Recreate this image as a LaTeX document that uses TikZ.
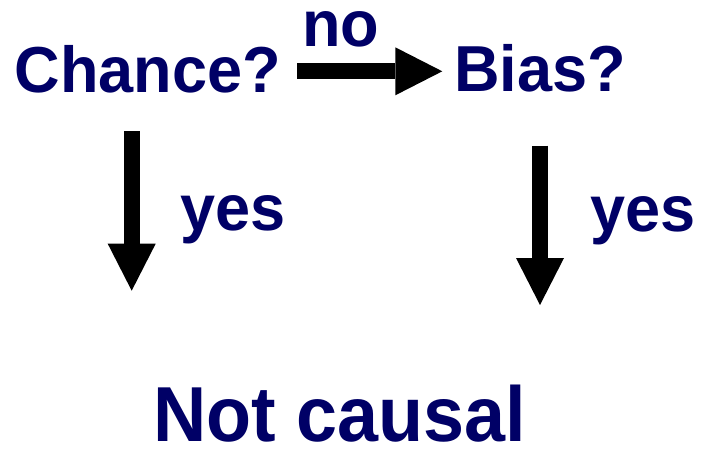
\documentclass[tikz,border=0pt]{standalone}
\usepackage{fontspec}
\setmainfont[FakeStretch=0.97]{Liberation Sans}
\newfontfamily\bigfont[FakeStretch=0.945]{Liberation Sans}
\usetikzlibrary{arrows.meta}
\definecolor{navy}{HTML}{000066}
\begin{document}
\begin{tikzpicture}[x=1pt,y=-1pt,
  lbl/.style={anchor=base west,inner sep=0pt,text=navy,font=\fontsize{65}{78}\selectfont\bfseries},
  biglbl/.style={lbl,font=\bigfont\fontsize{78}{94}\selectfont\bfseries},
  bigarrow/.style={line width=16pt,-{Triangle[length=47pt,width=48pt,line width=0pt]}}]
\useasboundingbox (0,0) rectangle (702,448);
\node[lbl] (chance) at (14.5,92.5) {Chance?};
\node[lbl] (no) at (302,46.5) {no};
\node[lbl] (bias) at (454,91) {Bias?};
\node[lbl] (yes1) at (180,230) {yes};
\node[lbl] (yes2) at (590,231.5) {yes};
\node[biglbl] (notcausal) at (153,441.5) {Not causal};
\coordinate (h1) at (297.3,71.3);
\coordinate (h2) at (442.3,71.3);
\coordinate (l1) at (131.7,131);
\coordinate (l2) at (131.7,290.7);
\coordinate (r1) at (540,145.7);
\coordinate (r2) at (540,305);
\draw[bigarrow] (h1) -- (h2);
\draw[bigarrow] (l1) -- (l2);
\draw[bigarrow] (r1) -- (r2);
\end{tikzpicture}
\end{document}
